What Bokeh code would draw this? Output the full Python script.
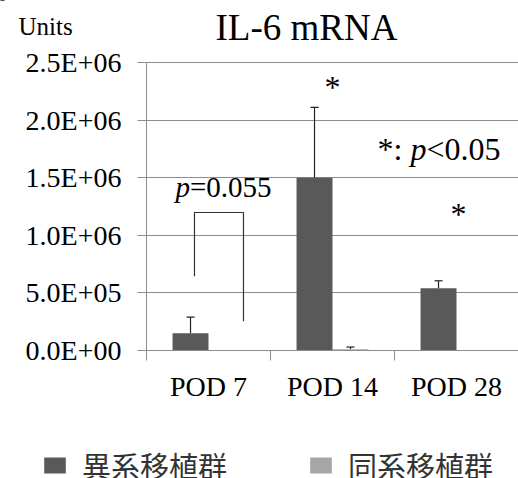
from bokeh.plotting import figure
from bokeh.models import (Range1d, LinearAxis, FixedTicker, Whisker, TeeHead,
                          ColumnDataSource, Legend, LegendItem, Label)
from bokeh.transform import dodge
from bokeh.embed import file_html
from bokeh.resources import INLINE

# ---- data ----
categories = ["POD 7", "POD 14", "POD 28"]
allo = [150000, 1500000, 540000]          # 異系移植群
allo_err = [140000, 610000, 65000]
iso = [0, 10000, 0]                        # 同系移植群
iso_err = [0, 20000, 0]
series_names = ["異系移植群", "同系移植群"]
y_ticks = [0, 500000, 1000000, 1500000, 2000000, 2500000]
y_tick_labels = ["0.0E+00", "5.0E+05", "1.0E+06", "1.5E+06", "2.0E+06", "2.5E+06"]
y_max = 2500000

# annotations (category-index x / data y)
bracket_x = [0.387, 0.387, 0.782, 0.782]
bracket_y = [645000, 1198000, 1198000, 254000]
star_x = [1.5, 2.516]
star_y = [2283000, 1181000]

SERIF = "Liberation Serif"
DARK = "#595959"
LIGHT = "#a6a6a6"
GRID = "#8c8c8c"

n = len(categories)
NAN = float("nan")


def upper(vals, errs):
    return [v + e if e > 0 else NAN for v, e in zip(vals, errs)]


src = ColumnDataSource(dict(
    cat=categories, xc=[i + 0.5 for i in range(n)],
    allo=allo, allo_up=upper(allo, allo_err),
    iso=iso, iso_up=upper(iso, iso_err),
))

# frame covers the whole canvas; axes are pinned at the data origin
PX = y_max / 288.0
p = figure(width=518, height=478, x_range=Range1d(-146 / 124.0, n),
           y_range=Range1d(-128 * PX, 350 * PX), output_backend="svg", toolbar_location=None,
           x_axis_location=None, y_axis_location=None, title=None, min_border=0)
p.outline_line_color = None

# y axis
yax = LinearAxis(ticker=FixedTicker(ticks=y_ticks, minor_ticks=[]), fixed_location=0,
                 bounds=(0, y_max),
                 major_label_overrides={t: l for t, l in zip(y_ticks, y_tick_labels)})
yax.axis_line_color = GRID
yax.major_tick_line_color = GRID
yax.major_tick_out = 9
yax.major_tick_in = 0
yax.major_label_standoff = 16
yax.major_label_text_font = SERIF
yax.major_label_text_font_size = "28px"
yax.major_label_text_color = "black"
p.add_layout(yax, "left")

# x axis (labels at centres, ticks at boundaries)
xax = LinearAxis(ticker=FixedTicker(ticks=[i + 0.5 for i in range(n)],
                                    minor_ticks=list(range(n + 1))),
                 fixed_location=0, bounds=(0, n),
                 major_label_overrides={i + 0.5: c for i, c in enumerate(categories)})
xax.axis_line_color = GRID
xax.major_tick_out = 0
xax.major_tick_in = 0
xax.minor_tick_line_color = GRID
xax.minor_tick_out = 10
xax.minor_tick_in = 0
xax.major_label_standoff = 10
xax.major_label_text_font = SERIF
xax.major_label_text_font_size = "28px"
xax.major_label_text_color = "black"
p.add_layout(xax, "below")

p.xgrid.visible = False
p.ygrid.ticker = FixedTicker(ticks=y_ticks)
p.ygrid.grid_line_color = GRID
p.ygrid.grid_line_width = 1
try:
    p.ygrid.cross_bounds = (0, n)
except Exception:
    p.ygrid.visible = False
    p.segment(x0=0, x1=n, y0=y_ticks, y1=y_ticks, line_color=GRID, line_width=1)

r1 = p.vbar(x=dodge("xc", -0.145), top="allo", width=0.29, source=src,
            fill_color=DARK, line_color=None)
r2 = p.vbar(x=dodge("xc", 0.145), top="iso", width=0.29, source=src,
            fill_color=LIGHT, line_color=None)

for col, up, off in (("allo", "allo_up", -0.145), ("iso", "iso_up", 0.145)):
    w = Whisker(base=dodge("xc", off), lower=col, upper=up, source=src,
                dimension="height", line_color="#222222", line_width=1.2,
                upper_head=TeeHead(size=8, line_color="#222222", line_width=1.2), lower_head=None)
    p.add_layout(w)

# bracket
p.line(bracket_x, bracket_y, line_color="#333333", line_width=1.2)

# labels
def lab(x, y, text, size, italic=False, align="left", xoff=0):
    p.add_layout(Label(x=x, y=y, text=text, text_font=SERIF,
                       text_font_size=size, text_font_style="italic" if italic else "normal",
                       text_align=align, text_baseline="alphabetic", x_offset=xoff,
                       text_color="black"))

lab(0.5565, 2803800, "IL-6 mRNA", "37px")
lab(-1.0323, 2810300, "Units", "25px")
lab(0.234, 1423600, "p", "29px", italic=True)
lab(0.234, 1423600, "=0.055", "29px", xoff=14.5)
lab(1.863, 1744800, "*: ", "32px")
lab(1.863, 1744800, "p", "32px", italic=True, xoff=32.9)
lab(1.863, 1744800, "<0.05", "32px", xoff=48.9)
for sx, sy in zip(star_x, star_y):
    lab(sx, sy, "*", "32px", align="center")

legend = Legend(items=[LegendItem(label=series_names[0], renderers=[r1]),
                       LegendItem(label=series_names[1], renderers=[r2])],
                orientation="horizontal", location=(41, -8),
                glyph_width=27, glyph_height=20, label_standoff=14, spacing=80,
                padding=0, margin=0, border_line_color=None,
                background_fill_alpha=0, label_text_baseline="bottom",
                label_text_font="Noto Sans CJK JP", label_text_font_size="29px",
                label_text_color="#333333")
p.add_layout(legend, "center")

open("out.html", "w").write(file_html(p, INLINE))
